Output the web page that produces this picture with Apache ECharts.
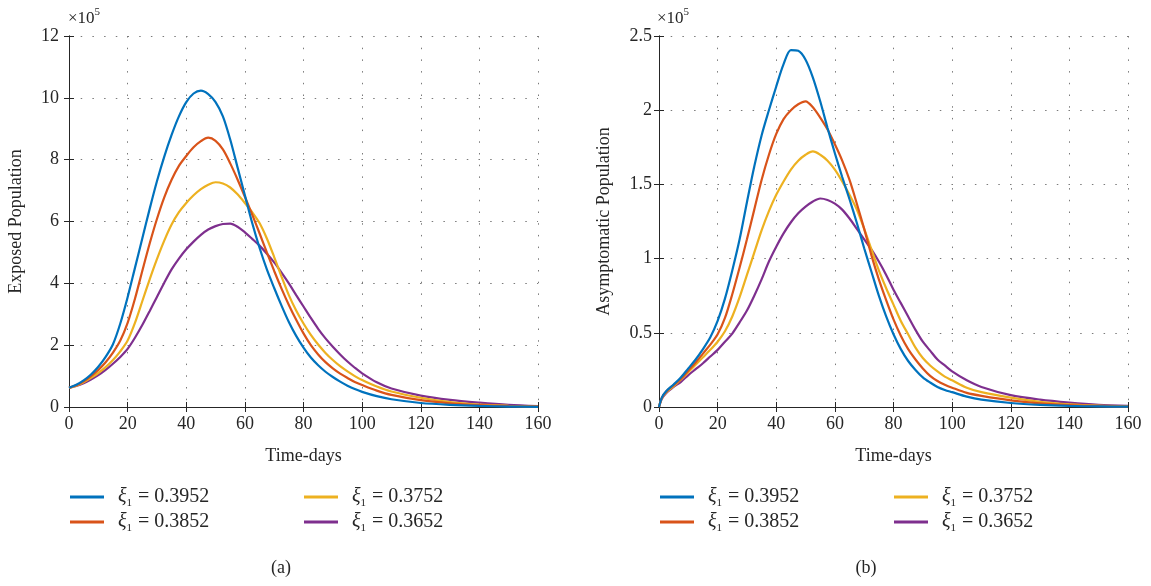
<!DOCTYPE html>
<html>
<head>
<meta charset="utf-8">
<script src="https://cdn.jsdelivr.net/npm/echarts@6/dist/echarts.min.js"></script>
<style>
html,body{margin:0;padding:0;background:#fff;}
#c{width:1151px;height:586px;}
</style>
</head>
<body>
<div id="c"></div>
<script>
// ---------- data ----------
const seriesNames = ['ξ1 = 0.3952', 'ξ1 = 0.3852', 'ξ1 = 0.3752', 'ξ1 = 0.3652'];
const xiValues = ['0.3952', '0.3852', '0.3752', '0.3652'];
const colors = ['#0072BD', '#D95319', '#EDB120', '#7E2F8E'];

// Panel (a): Exposed population (x10^5)
const daysE = [0,2.5,5,7.5,10,12.5,15,17.5,20,22.5,25,27.5,30,32.5,35,37.5,40,42.5,45,47.5,50,52.5,55,57.5,60,62.5,65,67.5,70,72.5,75,77.5,80,82.5,85,87.5,90,92.5,95,97.5,100,105,110,120,130,140,150,160];
const exposed1 = [0.62,0.72,0.86,1.05,1.30,1.62,2.03,2.70,3.55,4.50,5.45,6.40,7.30,8.10,8.80,9.40,9.86,10.14,10.23,10.12,9.86,9.40,8.65,7.75,6.85,5.95,5.15,4.45,3.85,3.28,2.75,2.30,1.92,1.60,1.35,1.14,0.97,0.82,0.69,0.58,0.49,0.35,0.25,0.13,0.07,0.035,0.015,0.006];
const exposed2 = [0.62,0.70,0.83,1.00,1.20,1.45,1.76,2.15,2.72,3.50,4.40,5.28,6.08,6.78,7.35,7.80,8.12,8.40,8.60,8.71,8.61,8.33,7.88,7.36,6.80,6.22,5.62,5.00,4.40,3.83,3.30,2.82,2.38,2.00,1.70,1.45,1.25,1.08,0.94,0.81,0.71,0.53,0.39,0.22,0.12,0.06,0.03,0.012];
const exposed3 = [0.62,0.69,0.80,0.94,1.10,1.29,1.52,1.80,2.15,2.72,3.42,4.12,4.78,5.38,5.90,6.30,6.60,6.85,7.05,7.19,7.27,7.23,7.10,6.88,6.60,6.30,5.95,5.45,4.85,4.22,3.62,3.12,2.70,2.33,2.02,1.75,1.52,1.32,1.15,1.00,0.87,0.66,0.50,0.30,0.16,0.08,0.04,0.015];
const exposed4 = [0.62,0.68,0.77,0.89,1.03,1.20,1.40,1.62,1.88,2.24,2.65,3.10,3.56,4.02,4.45,4.80,5.10,5.35,5.57,5.74,5.85,5.92,5.93,5.83,5.65,5.44,5.22,4.96,4.68,4.35,4.00,3.62,3.25,2.88,2.53,2.22,1.95,1.70,1.47,1.27,1.09,0.80,0.60,0.37,0.23,0.14,0.07,0.03];

// Panel (b): Asymptomatic population (x10^5)
const daysA = [0,1,2.5,5,7.5,10,12.5,15,17.5,20,22.5,25,27.5,30,32.5,35,37.5,40,42.5,45,47.5,50,52.5,55,57.5,60,62.5,65,67.5,70,72.5,75,77.5,80,82.5,85,87.5,90,92.5,95,97.5,100,105,110,120,130,140,150,160];
const asym1 = [0,0.065,0.108,0.152,0.20,0.26,0.32,0.39,0.47,0.58,0.73,0.92,1.13,1.38,1.62,1.83,2.00,2.16,2.31,2.405,2.40,2.34,2.22,2.06,1.88,1.71,1.55,1.40,1.24,1.07,0.91,0.75,0.61,0.49,0.39,0.31,0.25,0.20,0.165,0.135,0.115,0.10,0.07,0.05,0.027,0.014,0.007,0.004,0.002];
const asym2 = [0,0.063,0.105,0.147,0.19,0.245,0.30,0.36,0.42,0.49,0.60,0.76,0.94,1.13,1.33,1.53,1.70,1.84,1.94,2.00,2.04,2.06,2.02,1.95,1.87,1.77,1.66,1.53,1.37,1.20,1.02,0.86,0.72,0.59,0.48,0.39,0.32,0.26,0.21,0.175,0.15,0.13,0.095,0.075,0.045,0.025,0.012,0.006,0.003];
const asym3 = [0,0.06,0.10,0.14,0.185,0.235,0.285,0.335,0.385,0.44,0.51,0.61,0.74,0.89,1.04,1.19,1.32,1.43,1.52,1.60,1.66,1.70,1.722,1.70,1.66,1.60,1.52,1.43,1.33,1.20,1.06,0.92,0.80,0.69,0.58,0.49,0.40,0.33,0.28,0.24,0.205,0.18,0.13,0.10,0.063,0.035,0.018,0.009,0.005];
const asym4 = [0,0.055,0.095,0.135,0.17,0.215,0.255,0.295,0.34,0.385,0.44,0.495,0.57,0.65,0.75,0.86,0.98,1.08,1.17,1.245,1.305,1.35,1.385,1.405,1.395,1.37,1.33,1.27,1.20,1.13,1.06,0.98,0.89,0.79,0.70,0.61,0.52,0.44,0.38,0.32,0.28,0.24,0.18,0.135,0.08,0.05,0.03,0.015,0.007];

const xTicks = [0,20,40,60,80,100,120,140,160];
const yTicksE = [0,2,4,6,8,10,12];
const yTicksA = [0,0.5,1,1.5,2,2.5];

// ---------- build ----------
const FONT = 'Liberation Serif';
const TXT = '#262626';
const pair = (xs, ys) => xs.map((x, i) => [x, ys[i]]);
const exposedSets = [exposed1, exposed2, exposed3, exposed4];
const asymSets = [asym1, asym2, asym3, asym4];

const grids = [
  {left: 69, right: 613, top: 36, bottom: 179},
  {left: 659, right: 23, top: 36, bottom: 179}
];

function mainX(gi) {
  return {
    type: 'value', gridIndex: gi, min: xTicks[0], max: xTicks[xTicks.length-1], interval: xTicks[1]-xTicks[0],
    name: 'Time-days', nameLocation: 'middle', nameGap: 40,
    nameTextStyle: {fontFamily: FONT, fontSize: 18, color: TXT},
    axisLine: {show: true, lineStyle: {color: TXT, width: 1}},
    axisTick: {show: true, inside: true, length: 5, lineStyle: {color: TXT}},
    axisLabel: {fontFamily: FONT, fontSize: 18, color: TXT, margin: 8},
    splitLine: {show: true, lineStyle: {color: '#7a7a7a', width: 1, type: [1.5, 10.2]}}
  };
}
function topX(gi) {
  return {
    type: 'value', gridIndex: gi, position: 'top', min: xTicks[0], max: xTicks[xTicks.length-1], interval: xTicks[1]-xTicks[0],
    axisLine: {show: true, lineStyle: {color: TXT, width: 1}},
    axisTick: {show: true, inside: true, length: 5, lineStyle: {color: TXT}},
    axisLabel: {show: false}, splitLine: {show: false}
  };
}
function mainY(gi, ticks, name, gap, margin) {
  return {
    type: 'value', gridIndex: gi, min: ticks[0], max: ticks[ticks.length-1], interval: ticks[1]-ticks[0],
    name: name, nameLocation: 'middle', nameGap: gap,
    nameTextStyle: {fontFamily: FONT, fontSize: 18, color: TXT},
    axisLine: {show: true, lineStyle: {color: TXT, width: 1}},
    axisTick: {show: true, inside: true, length: 5, lineStyle: {color: TXT}},
    axisLabel: {fontFamily: FONT, fontSize: 18, color: TXT, margin: margin},
    splitLine: {show: true, lineStyle: {color: '#7a7a7a', width: 1, type: [1.5, 10.2]}}
  };
}
function rightY(gi, ticks) {
  return {
    type: 'value', gridIndex: gi, position: 'right', min: ticks[0], max: ticks[ticks.length-1], interval: ticks[1]-ticks[0],
    axisLine: {show: true, lineStyle: {color: TXT, width: 1}},
    axisTick: {show: true, inside: true, length: 5, lineStyle: {color: TXT}},
    axisLabel: {show: false}, splitLine: {show: false}
  };
}

const series = [];
exposedSets.forEach((ys, i) => series.push({
  name: seriesNames[i], type: 'line', xAxisIndex: 0, yAxisIndex: 0,
  data: pair(daysE, ys), showSymbol: false, symbol: 'none', smooth: 0.3,
  lineStyle: {color: colors[i], width: 2.2}, itemStyle: {color: colors[i]}, z: 10 - i
}));
asymSets.forEach((ys, i) => series.push({
  name: seriesNames[i], type: 'line', xAxisIndex: 2, yAxisIndex: 2,
  data: pair(daysA, ys), showSymbol: false, symbol: 'none', smooth: 0.3,
  lineStyle: {color: colors[i], width: 2.2}, itemStyle: {color: colors[i]}, z: 10 - i
}));

const legendRich = {
  g: {width: 9},
  x: {fontFamily: FONT, fontSize: 20, fontStyle: 'italic', color: TXT, lineHeight: 24},
  s: {fontFamily: FONT, fontSize: 11, color: TXT, lineHeight: 11, verticalAlign: 'bottom', padding: [0, 1, 0, 0]},
  t: {fontFamily: FONT, fontSize: 20, color: TXT, lineHeight: 24}
};
function legend(left, names) {
  return {
    left: left, top: 487, orient: 'vertical', itemGap: 3, padding: 0,
    icon: 'rect', itemWidth: 34, itemHeight: 3,
    data: names, selectedMode: false,
    formatter: (n) => '{g| }{x|ξ}{s|1}{t| = ' + xiValues[seriesNames.indexOf(n)] + '}',
    textStyle: {rich: legendRich}
  };
}

const scaleTitle = (left) => ({
  text: '{a|×10}{b|5}', left: left, top: 7, padding: 0,
  textStyle: {fontWeight: 'normal', rich: {
    a: {fontFamily: FONT, fontSize: 17, fontWeight: 'normal', color: TXT, lineHeight: 24},
    b: {fontFamily: FONT, fontSize: 11, fontWeight: 'normal', color: TXT, lineHeight: 11, verticalAlign: 'top'}
  }}
});

const option = {
  animation: false,
  backgroundColor: '#fff',
  title: [
    scaleTitle(68), scaleTitle(657),
    {text: '(a)', left: 281, top: 559, textAlign: 'center', padding: 0, textStyle: {fontFamily: FONT, fontSize: 18, fontWeight: 'normal', color: TXT}},
    {text: '(b)', left: 866, top: 559, textAlign: 'center', padding: 0, textStyle: {fontFamily: FONT, fontSize: 18, fontWeight: 'normal', color: TXT}}
  ],
  grid: grids,
  xAxis: [mainX(0), topX(0), mainX(1), topX(1)],
  yAxis: [mainY(0, yTicksE, 'Exposed Population', 44, 10), rightY(0, yTicksE), mainY(1, yTicksA, 'Asymptomatic Population', 46, 7), rightY(1, yTicksA)],
  legend: [
    legend(70, [seriesNames[0], seriesNames[1]]),
    legend(304, [seriesNames[2], seriesNames[3]]),
    legend(660, [seriesNames[0], seriesNames[1]]),
    legend(894, [seriesNames[2], seriesNames[3]])
  ],
  series: series
};

const chart = echarts.init(document.getElementById('c'), null, {renderer: 'canvas'});
chart.setOption(option);
</script>
</body>
</html>
